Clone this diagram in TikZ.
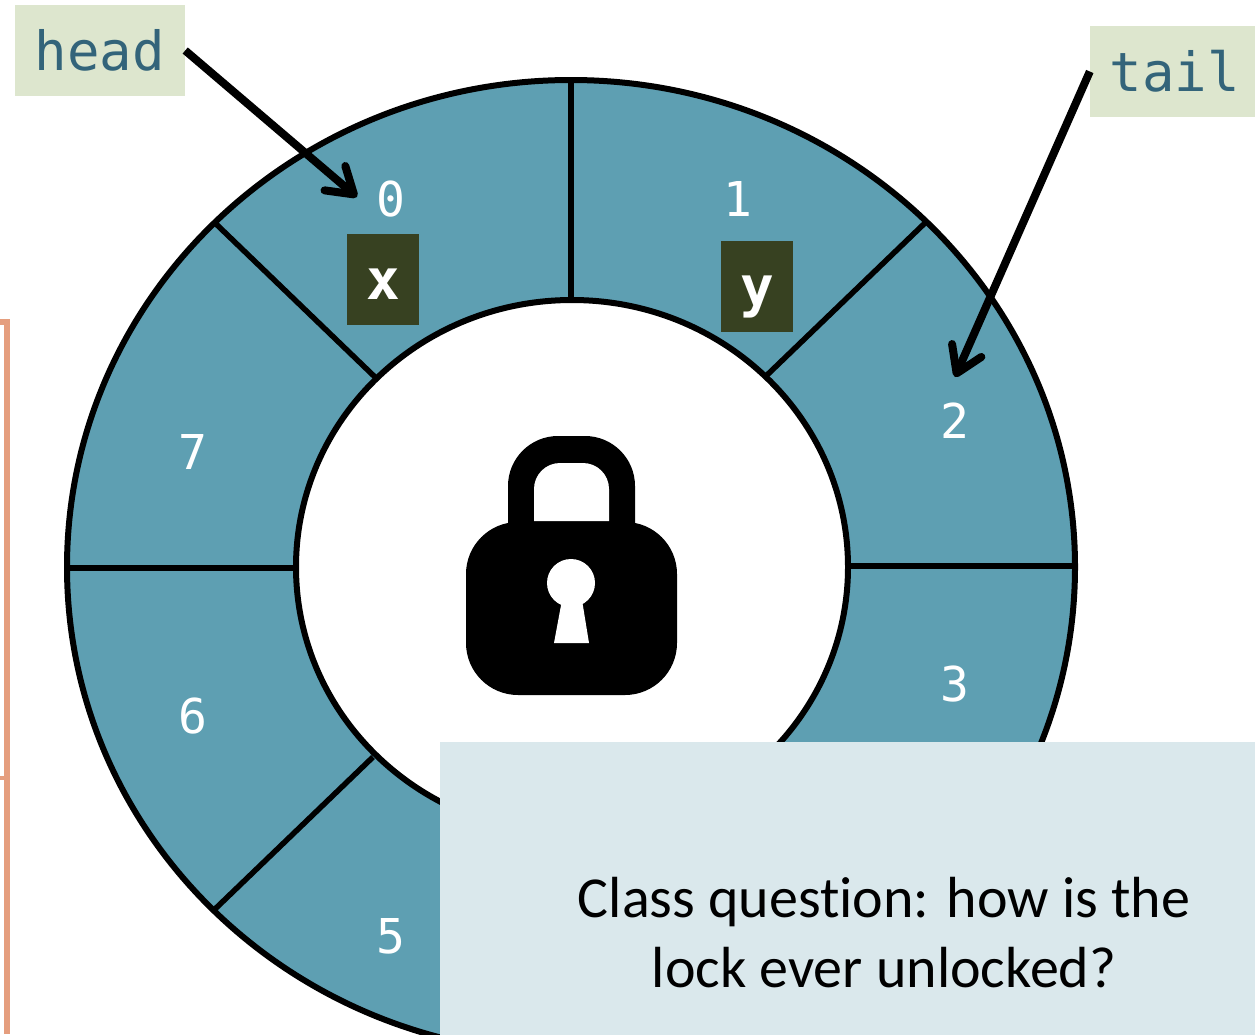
\documentclass[tikz,border=0pt]{standalone}
\usepackage{fontspec}
\usepackage{xcolor}
\usetikzlibrary{arrows.meta, positioning}
\newfontfamily\codefont{DejaVu Sans Mono}
\newfontfamily\calloutfont[Ligatures=NoCommon]{Carlito}
\definecolor{ringblue}{RGB}{94,159,178}
\definecolor{pointergreen}{RGB}{221,230,206}
\definecolor{pointertext}{RGB}{51,100,122}
\definecolor{itemgreen}{RGB}{55,65,33}
\definecolor{calloutblue}{RGB}{218,232,236}
\definecolor{bracketorange}{RGB}{229,158,126}
\tikzset{
  pointerbox/.style={fill=pointergreen, text=pointertext, minimum height=91pt,
    inner sep=0pt, font=\codefont\fontsize{54}{54}\selectfont},
  slotnum/.style={text=white, inner sep=0pt, font=\codefont\fontsize{48}{48}\selectfont},
  itembox/.style={fill=itemgreen, text=white, minimum width=72pt, minimum height=91pt,
    inner sep=0pt, text height=39pt, text depth=0pt, font=\codefont\bfseries\fontsize{56}{56}\selectfont},
  spoke/.style={line width=5.5pt},
  pointerarrow/.style={line width=8pt, -{Straight Barb[length=25pt,width=32pt,line width=8pt,round]}}
}
\begin{document}
\begin{tikzpicture}[x=1pt, y=-1pt]
    \useasboundingbox (0,0) rectangle (1255,1034);
    \clip (0,0) rectangle (1255,1034);
    % bracket cut off on the left
    \draw[bracketorange, line width=6pt] (0,322) -- (7,322) -- (7,1034);
    \draw[bracketorange, line width=4pt] (0,778) -- (7,778);
    % ring
    \draw[fill=ringblue, line width=6pt] (571,567) ellipse [x radius=504, y radius=487];
    \draw[fill=white, line width=6pt] (572,567) ellipse [x radius=276, y radius=267];
    \draw[spoke] (571,80) -- (571,300);
    \draw[spoke] (926,222) -- (766,376);
    \draw[spoke] (848,566) -- (1075,566);
    \draw[spoke] (373,757) -- (214,910);
    \draw[spoke] (66,568) -- (296,568);
    \draw[spoke] (214,222) -- (376,378);
    % lock
    \fill[rounded corners=50pt] (508,530) -- (508,436) -- (635,436) [sharp corners] -- (635,530) -- cycle;
    \fill[white, rounded corners=26pt] (534,521) -- (534,463) -- (609,463) [sharp corners] -- (609,521) -- cycle;
    \fill[rounded corners=52pt] (466,522) rectangle (677,695);
    \fill[white] (571,583) circle [radius=24];
    \fill[white] (562,600) -- (582,600) -- (589,643) -- (554,643) -- cycle;
    % slot numbers
    \node[slotnum] (slot0) at (391,199) {0};
    \node[slotnum] (slot1) at (738,199) {1};
    \node[slotnum] (slot2) at (955,421) {2};
    \node[slotnum] (slot3) at (955,684) {3};
    \node[slotnum] (slot5) at (391,936) {5};
    \node[slotnum] (slot6) at (193,716) {6};
    \node[slotnum] (slot7) at (193,452) {7};
    % items
    \node[itembox] (itemx) at (383,279.5) {x};
    \node[itembox] (itemy) at (757,286.5) {y};
    % pointers
    \node[pointerbox, minimum width=170pt] (head) at (100,50.5) {head};
    \node[pointerbox, minimum width=169pt] (tail) at (1174.5,71.5) {tail};
    \coordinate (headend) at (357,197);
    \coordinate (tailend) at (955,377);
    \draw[pointerarrow] (head.east) -- (headend);
    \draw[pointerarrow] (tail.west) -- (tailend);
    % callout
    \node[fill=calloutblue, minimum width=815pt, minimum height=296pt, inner sep=0pt] (callout)
      at (847.5,890) {};
    \node[font=\calloutfont\fontsize{58}{70}\selectfont, align=center, inner sep=0pt] (question)
      at (884,933) {Class question: how is the\\lock ever unlocked?};
  \end{tikzpicture}
\end{document}
